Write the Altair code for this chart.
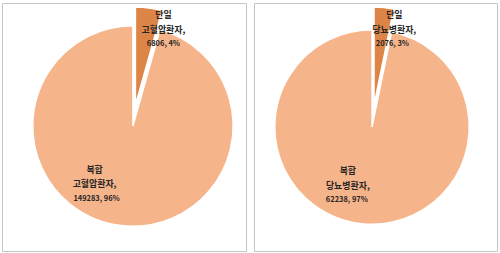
import altair as alt
import pandas as pd

types = ["단일", "복합"]
diseases = ["고혈압환자", "당뇨병환자"]
hyp_values = [6806, 149283]
dia_values = [2076, 62238]
hyp_pcts = ["4%", "96%"]
dia_pcts = ["3%", "97%"]

DARK = "#DD8546"
LIGHT = "#F6B48A"
FONT = "Noto Sans CJK KR"


def panel_df(disease, values, pcts):
    return pd.DataFrame({
        "type": types,
        "ord": [0, 1],
        "value": values,
        "name": [f"{t}\n{disease}," for t in types],
        "num": [f"{v}, {p}" for v, p in zip(values, pcts)],
    })


def make_panel(df, g):
    base = alt.Chart(df).encode(
        theta=alt.Theta("value:Q", stack=True),
        order=alt.Order("ord:Q"),
        color=alt.Color("type:N", scale=alt.Scale(domain=types, range=[DARK, LIGHT]), legend=None),
    )
    show_main = alt.condition("datum.type === '복합'", alt.value(1), alt.value(0))
    show_small = alt.condition("datum.type === '단일'", alt.value(1), alt.value(0))

    main_arc = base.mark_arc(radius=g["r_main"], stroke="white", strokeWidth=1.5).encode(
        x=alt.value(g["main_c"][0]), y=alt.value(g["main_c"][1]), opacity=show_main)
    small_arc = base.mark_arc(radius=g["r_small"], stroke="white", strokeWidth=1.5).encode(
        x=alt.value(g["small_c"][0]), y=alt.value(g["small_c"][1]), opacity=show_small)

    def txt(center, show, field, r, dx, dy, size):
        return alt.Chart(df).mark_text(
            radius=r, dx=dx, dy=dy, lineBreak="\n", lineHeight=15, align="center",
            baseline="middle", font=FONT, fontSize=size, fontWeight="bold", color="#262626",
        ).encode(
            theta=alt.Theta("value:Q", stack=True),
            order=alt.Order("ord:Q"),
            text=alt.Text(f"{field}:N"),
            x=alt.value(center[0]), y=alt.value(center[1]), opacity=show,
        )

    layers = [
        main_arc, small_arc,
        txt(g["main_c"], show_main, "name", 59, g["main_name"][0], g["main_name"][1], 9),
        txt(g["main_c"], show_main, "num", 59, g["main_num"][0], g["main_num"][1], 7.5),
        txt(g["small_c"], show_small, "name", 75, g["small_name"][0], g["small_name"][1], 9),
        txt(g["small_c"], show_small, "num", 75, g["small_num"][0], g["small_num"][1], 7.5),
    ]
    return alt.layer(*layers).resolve_scale(theta="shared").properties(width=g["w"], height=250)


left_geom = dict(w=246, r_main=101, r_small=99, main_c=(132, 124), small_c=(134.5, 103),
                 main_name=(-30.6, -14.5), main_num=(-28.6, 15.5),
                 small_name=(18, -16.1), small_num=(18, 12.4))
right_geom = dict(w=245, r_main=98, r_small=99, main_c=(119, 125), small_c=(121, 103),
                  main_name=(-18.4, -14.7), main_num=(-19.4, 15.3),
                  small_name=(12.9, -15.8), small_num=(10.9, 12.7))

left = make_panel(panel_df(diseases[0], hyp_values, hyp_pcts), left_geom)
right = make_panel(panel_df(diseases[1], dia_values, dia_pcts), right_geom)

chart = alt.hconcat(left, right, spacing=6).properties(
    padding={"left": 1, "top": 1, "right": 2, "bottom": 2},
    background="white",
).configure_view(stroke="#c4c4c4", strokeWidth=1)

chart.save("out.html", embed_options={"renderer": "svg", "actions": False})
